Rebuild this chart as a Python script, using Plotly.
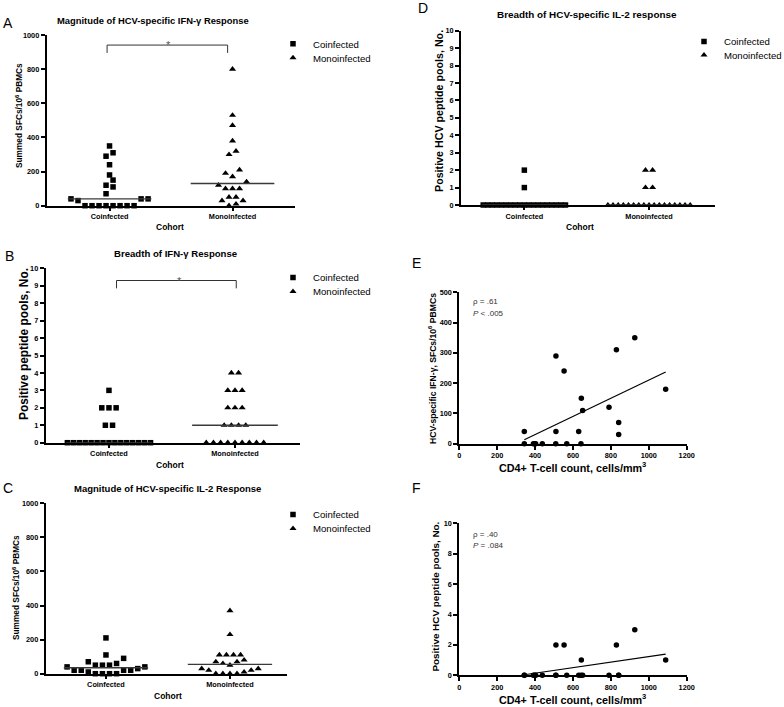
import numpy as np
import plotly.graph_objects as go

# ---------------- data ----------------
categories = ["Coinfected", "Monoinfected"]

# coinfected patients (same order in all patient-level arrays)
coinf_cd4 = [343, 343, 391, 397, 403, 438, 510, 510, 509, 553, 567,
             630, 644, 642, 651, 790, 829, 841, 841, 926, 1089]
coinf_ifn_sfc = [40, 0, 0, 0, 0, 0, 290, 40, 0, 240, 0,
                 40, 150, 0, 110, 120, 310, 70, 30, 350, 180]
coinf_ifn_pools = [0, 0, 0, 0, 0, 0, 2, 0, 0, 2, 0,
                   0, 1, 0, 0, 0, 2, 0, 0, 3, 1]

mono_ifn_sfc = [0, 10, 30, 30, 50, 50, 100, 100, 100, 120,
                140, 170, 190, 210, 300, 320, 380, 470, 530, 800]
mono_ifn_pools = [0, 0, 0, 0, 0, 0, 0, 0, 0, 1, 1, 1, 1,
                  2, 2, 2, 3, 3, 3, 4, 4]

coinf_il2_sfc = [0, 0, 0, 0, 10, 20, 20, 20, 20, 30,
                 40, 40, 50, 50, 50, 60, 70, 90, 110, 210]
mono_il2_sfc = [0, 0, 0, 0, 10, 20, 20, 30, 30, 50,
                60, 70, 70, 80, 110, 110, 110, 110, 230, 370]

coinf_il2_pools = [0, 0, 0, 0, 0, 0, 0, 0, 0, 0, 0, 0, 0, 0, 0, 0, 0, 0, 0, 1, 2]
mono_il2_pools = [0, 0, 0, 0, 0, 0, 0, 0, 0, 0, 0, 0, 0, 0, 0, 0, 0, 1, 1, 2, 2]

stats_E = ["ρ = .61", "<i>P</i> < .005"]
stats_F = ["ρ = .40", "<i>P</i> = .084"]

# ---------------- helpers ----------------
W, H = 784, 707
FONT = "Arial, Liberation Sans, sans-serif"


def fx(px):
    return px / W


def fy(py):
    return 1 - py / H


def swarm(values, center, thr, step=0.057, maxw=0.66):
    """GraphPad-like scatter: rows of nearby values spread horizontally."""
    vals = np.asarray(values, dtype=float)
    order = np.argsort(vals, kind="stable")
    rows, cur = [], []
    for i in order:
        if cur and vals[i] - vals[cur[0]] > thr:
            rows.append(cur)
            cur = []
        cur.append(i)
    if cur:
        rows.append(cur)
    xs = np.zeros(len(vals))
    for row in rows:
        n = len(row)
        s = step if n == 1 else min(step, maxw / (n - 1))
        slots = [(k - (n - 1) / 2) * s for k in range(n)]
        slots.sort(key=lambda o: (round(abs(o), 9), o))
        for idx, sl in zip(row, slots):
            xs[idx] = center + sl
    return xs


# panel pixel boxes: left, right, top, bottom
boxes = {
    1: (46.7, 295.0, 35.0, 205.7),
    2: (45.7, 300.0, 268.3, 442.7),
    3: (45.7, 287.0, 503.3, 673.7),
    4: (461.0, 715.0, 30.7, 205.0),
    5: (459.3, 686.7, 292.3, 443.7),
    6: (459.3, 686.7, 523.3, 675.3),
}
# category x-ranges (chosen so categories sit where they do in the figure)
cat_ranges = {1: [-0.511, 1.508], 2: [-0.502, 1.516],
              3: [-0.486, 1.46], 4: [-0.508, 1.529]}
y_ranges = {1: [0, 1000], 2: [0, 10], 3: [0, 1000], 4: [0, 10],
            5: [0, 500], 6: [0, 10]}

fig = go.Figure()

sq = dict(symbol="square", size=5.5, color="black")
tri = dict(symbol="triangle-up", size=6.2, color="black")

# legend slots (one legend per entry so the entries sit close together)
leg_ids = {1: ("legend", "legend2"), 2: ("legend3", "legend4"),
           3: ("legend5", "legend6"), 4: ("legend7", "legend8")}

dot_panels = [
    (1, coinf_ifn_sfc, mono_ifn_sfc),
    (2, coinf_ifn_pools, mono_ifn_pools),
    (3, coinf_il2_sfc, mono_il2_sfc),
    (4, coinf_il2_pools, mono_il2_pools),
]

for k, cvals, mvals in dot_panels:
    xa = "x" if k == 1 else f"x{k}"
    ya = "y" if k == 1 else f"y{k}"
    thr = 0.044 * (y_ranges[k][1] - y_ranges[k][0])
    for ci, (vals, mk) in enumerate([(cvals, sq), (mvals, tri)]):
        xs = swarm(vals, ci, thr)
        fig.add_trace(go.Scatter(
            x=xs, y=vals, mode="markers", marker=mk, name=categories[ci],
            xaxis=xa, yaxis=ya, legend=leg_ids[k][ci], cliponaxis=False,
            hoverinfo="y"))
        med = float(np.median(vals))
        fig.add_trace(go.Scatter(
            x=[ci - 0.34, ci + 0.34], y=[med, med], mode="lines",
            line=dict(color="#3a3a3a", width=1.3), showlegend=False,
            xaxis=xa, yaxis=ya, cliponaxis=False, hoverinfo="skip"))

# correlation panels
for k, yvals in [(5, coinf_ifn_sfc), (6, coinf_ifn_pools)]:
    xa, ya = f"x{k}", f"y{k}"
    fig.add_trace(go.Scatter(
        x=coinf_cd4, y=yvals, mode="markers",
        marker=dict(symbol="circle", size=5.5, color="black"),
        showlegend=False, xaxis=xa, yaxis=ya, cliponaxis=False))
    slope, icpt = np.polyfit(coinf_cd4, yvals, 1)
    xl = np.array([min(coinf_cd4), max(coinf_cd4)])
    fig.add_trace(go.Scatter(
        x=xl, y=slope * xl + icpt, mode="lines",
        line=dict(color="black", width=1.2), showlegend=False,
        xaxis=xa, yaxis=ya, hoverinfo="skip"))

# ---------------- axes ----------------
tickfont = dict(family=FONT, size=7.3, color="black", weight="bold")
common = dict(showline=True, linecolor="black", linewidth=2, ticks="outside",
              tickwidth=1.5, tickcolor="black", showgrid=False, zeroline=False,
              tickfont=tickfont, fixedrange=True)

layout_axes = {}
for k, (l, r, t, b) in boxes.items():
    xn = "xaxis" if k == 1 else f"xaxis{k}"
    yn = "yaxis" if k == 1 else f"yaxis{k}"
    xa = "x" if k == 1 else f"x{k}"
    ya = "y" if k == 1 else f"y{k}"
    if k <= 4:
        xax = dict(common, domain=[fx(l), fx(r)], range=cat_ranges[k],
                   tickvals=[0, 1], ticktext=categories, ticklen=3,
                   anchor=ya)
    else:
        xax = dict(common, domain=[fx(l), fx(r)], range=[0, 1200],
                   tickvals=[0, 200, 400, 600, 800, 1000, 1200], ticklen=4,
                   anchor=ya)
    if k in (1, 3):
        yt = [0, 200, 400, 600, 800, 1000]
    elif k in (2, 4):
        yt = list(range(0, 11))
    elif k == 5:
        yt = [0, 100, 200, 300, 400, 500]
    else:
        yt = [0, 2, 4, 6, 8, 10]
    yax = dict(common, domain=[fy(b), fy(t)], range=y_ranges[k], tickvals=yt,
               ticklen=4, anchor=xa)
    layout_axes[xn] = xax
    layout_axes[yn] = yax

# ---------------- annotations ----------------
def ann(text, px, py, size, bold=False, angle=0, xanchor="center",
        color="black"):
    return dict(text=text, x=fx(px), y=fy(py), xref="paper", yref="paper",
                showarrow=False, xanchor=xanchor, yanchor="middle",
                textangle=angle,
                font=dict(family=FONT, size=size, color=color,
                          weight="bold" if bold else "normal"))


annotations = [
    # panel letters
    ann("A", 8, 23, 14), ann("B", 9, 256, 14), ann("C", 8, 487.5, 14),
    ann("D", 423, 8, 14), ann("E", 416.5, 263, 14), ann("F", 416.5, 487.5, 14),
    # titles
    ann("Magnitude of HCV-specific IFN-γ Response", 153, 20.7, 9.4, True),
    ann("Breadth of IFN-γ Response", 175, 254, 9.6, True),
    ann("Magnitude of HCV-specific IL-2 Response", 167, 488, 9.5, True),
    ann("Breadth of HCV-specific IL-2 response", 587, 15, 9.9, True),
    # x titles
    ann("Cohort", 170, 227, 8.5, True), ann("Cohort", 170, 465, 8.5, True),
    ann("Cohort", 168, 696, 8.5, True), ann("Cohort", 580, 227, 8.5, True),
    ann("CD4+ T-cell count, cells/mm<sup>3</sup>", 572, 467, 10.8, True),
    ann("CD4+ T-cell count, cells/mm<sup>3</sup>", 572, 699, 10.8, True),
    # y titles
    ann("Summed SFCs/10<sup>6</sup> PBMCs", 19, 116, 8.3, True, -90),
    ann("Positive peptide pools, No.", 24, 344, 11.9, True, -90),
    ann("Summed SFCs/10<sup>6</sup> PBMCs", 16, 588, 8.3, True, -90),
    ann("Positive HCV peptide pools, No.", 439, 111, 10.7, True, -90),
    ann("HCV-specific IFN-γ, SFCs/10<sup>6</sup> PBMCs", 432, 368, 8.6, True, -90),
    ann("Positive HCV peptide pools, No.", 434.5, 597, 9.9, True, -90),
    # stats
    ann(stats_E[0], 470.7, 301.7, 8, xanchor="left", color="#333333"),
    ann(stats_E[1], 470.7, 313.3, 8, xanchor="left", color="#333333"),
    ann(stats_F[0], 470.7, 534, 8, xanchor="left", color="#333333"),
    ann(stats_F[1], 470.7, 545.7, 8, xanchor="left", color="#333333"),
]

# significance brackets
brackets = [("x", "y", -0.02, 0.96, 895, 941, 0.476),
            ("x2", "y2", 0.06, 1.01, 8.85, 9.3, 0.56)]
shapes = []
for xr, yr, x0, x1, ylo, yhi, xs in brackets:
    shapes.append(dict(type="path", xref=xr, yref=yr,
                       path=f"M {x0},{ylo} L {x0},{yhi} L {x1},{yhi} L {x1},{ylo}",
                       line=dict(color="#333333", width=1)))
    annotations.append(dict(text="*", x=xs, y=yhi, xref=xr, yref=yr,
                            showarrow=False, yanchor="middle",
                            font=dict(family=FONT, size=11, color="#555555")))

legend_style = dict(xanchor="left", yanchor="top", bgcolor="rgba(0,0,0,0)",
                    font=dict(family=FONT, size=9.6, color="black"),
                    tracegroupgap=0)
# (legend left px, entry centre py) for each legend entry
leg_pos = {"legend": (273, 43.3), "legend2": (273, 57.3),
           "legend3": (273, 277), "legend4": (273, 291),
           "legend5": (273, 514), "legend6": (273, 528),
           "legend7": (684, 41), "legend8": (684, 54.5)}
legends = {name: dict(legend_style, x=fx(px), y=fy(py - 14))
           for name, (px, py) in leg_pos.items()}

fig.update_layout(
    width=W, height=H, autosize=False,
    margin=dict(l=0, r=0, t=0, b=0, autoexpand=False),
    paper_bgcolor="white", plot_bgcolor="white",
    annotations=annotations, shapes=shapes,
    **legends,
    **layout_axes,
)

fig.write_html("out.html",
               config={"displayModeBar": False},
               post_script="document.body.style.margin='0px';"
                           "document.body.style.overflow='hidden';")
